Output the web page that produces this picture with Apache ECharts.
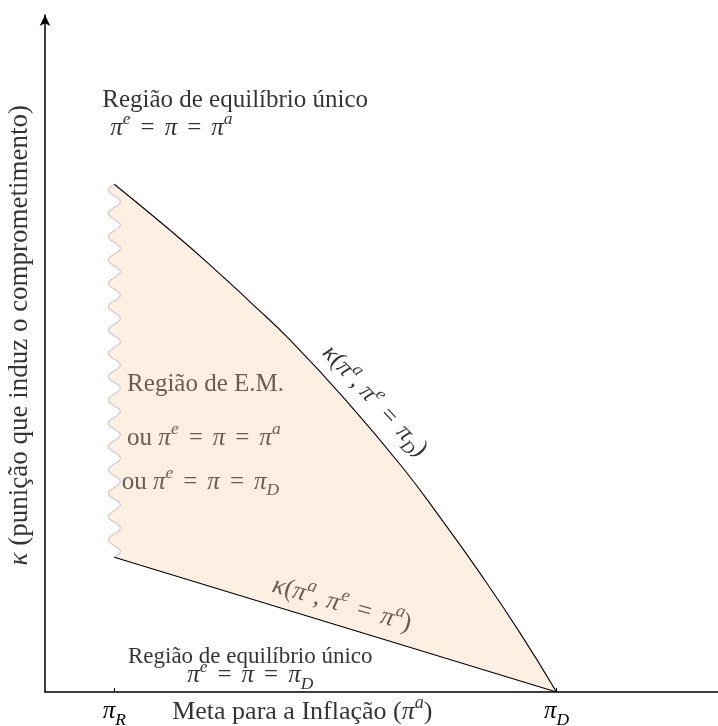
<!DOCTYPE html>
<html><head><meta charset="utf-8">
<script src="https://cdn.jsdelivr.net/npm/echarts@6/dist/echarts.min.js"></script>
<style>html,body{margin:0;padding:0;background:#fff}#c{width:718px;height:726px}</style>
</head><body><div id="c"></div><script>
// ---- data ----
const xTickValues = [1.03, 7.6];          // positions of pi_R and pi_D on the x axis
const xTickSubs = ['R', 'D'];
const upperX = [1.03, 1.86, 2.45, 3.05, 3.64, 4.47, 5.31, 5.87, 6.46, 7.06, 7.6];
const upperY = [7.50, 6.82, 6.31, 5.76, 5.20, 4.31, 3.32, 2.58, 1.76, 0.87, 0];
const lowerX = [1.03, 7.6];
const lowerY = [1.99, 0];

const FONT = '"Liberation Serif", "DejaVu Serif", serif';
function rich(size, color) {
  return {
    r:   {fontFamily: FONT, fontSize: size, color: color, lineHeight: size * 1.4},
    q:   {fontFamily: FONT, fontSize: size, color: color, lineHeight: size * 1.4, padding: [0, size * 0.4, 0, size * 0.4]},
    m:   {fontFamily: FONT, fontSize: size, fontStyle: 'italic', color: color, lineHeight: size * 1.4},
    sup: {fontFamily: FONT, fontSize: size * 0.7, fontStyle: 'italic', color: color, lineHeight: size * 0.7, verticalAlign: 'top'},
    sub: {fontFamily: FONT, fontSize: size * 0.7, fontStyle: 'italic', color: color, lineHeight: size * 0.85, verticalAlign: 'bottom'}
  };
}
const eqA = '{m|π}{sup|e}{q|=}{m|π}{q|=}{m|π}{sup|a}';
const eqD = '{m|π}{sup|e}{q|=}{m|π}{q|=}{m|π}{sub|D}';
const kD = '{m|κ}{r|(}{m|π}{sup|a}{r|, }{m|π}{sup|e}{q|=}{m|π}{sub|D}{r|)}';
const kA = '{m|κ}{r|(}{m|π}{sup|a}{r|, }{m|π}{sup|e}{q|=}{m|π}{sup|a}{r|)}';
const INK = '#000';
const BROWN = '#45372b';

function ann(x, y, text, size, color, align, rotate) {
  return {value: [x, y], label: {show: true, position: 'inside', formatter: text,
    align: align, verticalAlign: 'middle', rotate: rotate || 0, rich: rich(size, color)}};
}

const annotations = [
  ann(0.85, 8.74, '{r|Região de equilíbrio único}', 25, INK, 'left'),
  ann(0.97, 8.33, eqA, 25, INK, 'left'),
  ann(1.22, 4.55, '{r|Região de E.M.}', 25, BROWN, 'left'),
  ann(1.22, 3.75, '{r|ou }' + eqA, 25, BROWN, 'left'),
  ann(1.14, 3.10, '{r|ou }' + eqD, 25, BROWN, 'left'),
  ann(4.90, 4.30, kD, 25, INK, 'center', -47),
  ann(4.41, 1.29, kA, 26, BROWN, 'center', -16),
  ann(3.05, 0.52, '{r|Região de equilíbrio único}', 23, INK, 'center'),
  ann(3.05, 0.24, eqD, 25, INK, 'center'),
  ann(1.89, -0.30, '{r|Meta para a Inflação (}{m|π}{sup|a}{r|)}', 26, INK, 'left'),
  ann(-0.37, 5.27, '{m|κ}{r| (punição que induz o comprometimento)}', 27, INK, 'center', 90)
];

const chart = echarts.init(document.getElementById('c'), null, {renderer: 'canvas'});
chart.setOption({
  animation: false,
  backgroundColor: '#fff',
  grid: {left: 45, right: 0, top: 15, bottom: 34, containLabel: false, outerBoundsMode: 'none'},
  xAxis: {
    type: 'value', min: 0, max: 10,
    splitLine: {show: false},
    axisLine: {show: true, onZero: false, lineStyle: {color: '#000', width: 1.5}},
    axisTick: {show: true, inside: true, length: 4, customValues: xTickValues, lineStyle: {color: '#000'}},
    axisLabel: {show: true, margin: 2, customValues: xTickValues,
      formatter: function (v) {
        let best = 0;
        xTickValues.forEach(function (t, i) { if (Math.abs(t - v) < Math.abs(xTickValues[best] - v)) best = i; });
        return '{m|π}{sub|' + xTickSubs[best] + '}';
      },
      rich: rich(25, '#000')}
  },
  yAxis: {
    type: 'value', min: 0, max: 10,
    splitLine: {show: false},
    axisTick: {show: false}, axisLabel: {show: false},
    axisLine: {show: true, onZero: false, symbol: ['none', 'arrow'], symbolSize: [8, 11], lineStyle: {color: '#000', width: 1.5}}
  },
  series: [
    {
      type: 'custom', coordinateSystem: 'cartesian2d', data: [[0, 0]], silent: true, z: 1, clip: false,
      renderItem: function (params, api) {
        const bottom = api.coord([lowerX[0], lowerY[0]]);
        const top = api.coord([upperX[0], upperY[0]]);
        const waves = 16, amp = 6, steps = 400;
        const wave = [];
        for (let i = 0; i <= steps; i++) {
          const t = i / steps;
          wave.push([bottom[0] + amp * Math.sin(2 * Math.PI * waves * t), bottom[1] + (top[1] - bottom[1]) * t]);
        }
        const curve = upperX.map(function (x, i) { return api.coord([x, upperY[i]]); });
        const lower = lowerX.map(function (x, i) { return api.coord([x, lowerY[i]]); }).reverse();
        const poly = wave.concat(curve, lower.slice(1));
        return {type: 'group', children: [
          {type: 'polygon', shape: {points: poly}, style: {fill: '#fdf0e3', stroke: null}},
          {type: 'polyline', shape: {points: wave}, style: {stroke: '#cfcfcf', lineWidth: 1.3, fill: null}}
        ]};
      }
    },
    {
      type: 'line', z: 3, symbol: 'none', smooth: true, silent: true,
      data: upperX.map(function (x, i) { return [x, upperY[i]]; }),
      lineStyle: {color: '#000', width: 1.1}
    },
    {
      type: 'line', z: 3, symbol: 'none', silent: true,
      data: lowerX.map(function (x, i) { return [x, lowerY[i]]; }),
      lineStyle: {color: '#000', width: 1.1}
    },
    {
      type: 'scatter', z: 5, symbolSize: 0, silent: true, clip: false,
      data: annotations
    }
  ]
});
</script></body></html>
